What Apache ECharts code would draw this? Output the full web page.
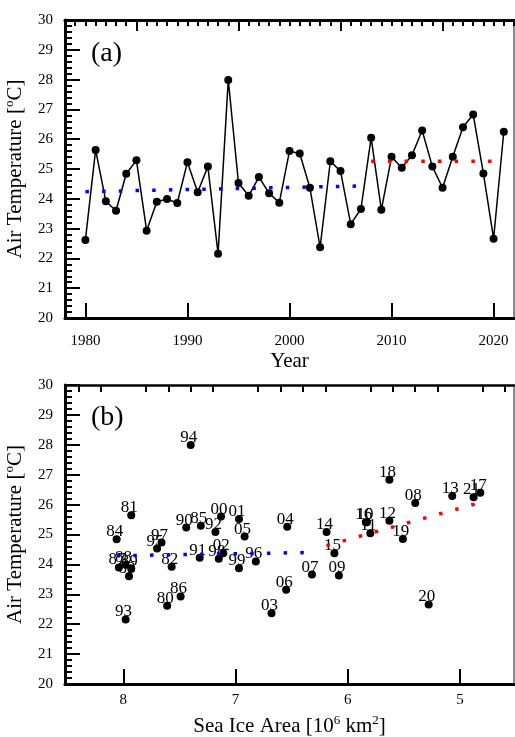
<!DOCTYPE html>
<html>
<head>
<meta charset="utf-8">
<script src="https://cdn.jsdelivr.net/npm/echarts@6/dist/echarts.min.js"></script>
<style>
  html, body { margin: 0; padding: 0; background: #fff; }
  #chart { width: 515px; height: 737px; }
</style>
</head>
<body>
<div id="chart"></div>
<script>
// yearly data, 1980-2021
const years = [1980, 1981, 1982, 1983, 1984, 1985, 1986, 1987, 1988, 1989,
  1990, 1991, 1992, 1993, 1994, 1995, 1996, 1997, 1998, 1999,
  2000, 2001, 2002, 2003, 2004, 2005, 2006, 2007, 2008, 2009,
  2010, 2011, 2012, 2013, 2014, 2015, 2016, 2017, 2018, 2019,
  2020, 2021]
const airTemp = [22.62, 25.64, 23.92, 23.60, 24.84, 25.29, 22.93, 23.90, 23.99, 23.86,
  25.23, 24.22, 25.08, 22.16, 27.99, 24.53, 24.10, 24.73, 24.19, 23.87,
  25.60, 25.52, 24.37, 22.37, 25.26, 24.93, 23.15, 23.66, 26.05, 23.63,
  25.41, 25.04, 25.46, 26.29, 25.08, 24.37, 25.41, 26.40, 26.83, 24.85,
  22.66, 26.25]
const seaIce = [7.61, 7.93, 7.57, 7.95, 8.06, 7.31, 7.49, 8.04, 7.98, 7.93,
  7.44, 7.32, 7.18, 7.98, 7.40, 7.70, 6.82, 7.66, 7.15, 6.97,
  7.13, 6.97, 7.11, 6.68, 6.54, 6.92, 6.55, 6.32, 5.40, 6.08,
  5.83, 5.80, 5.63, 5.07, 6.19, 6.12, 5.84, 4.82, 5.63, 5.51,
  5.28, 4.88]

// mean / trend lines
const meanEarlyA = [[1980, 24.24], [2007, 24.43]]
const meanLateA = [[2008, 25.26], [2021, 25.26]]
const fitEarlyB = [[8.06, 24.29], [6.32, 24.40]]
const fitLateB = [[6.19, 24.63], [4.82, 26.07]]

// tick values
const decadeTicks = [1980, 1990, 2000, 2010, 2020]
const halfDecadeTicks = [1985, 1995, 2005, 2015]
const iceMajorTicks = [5, 6, 7, 8]
const iceMinorTicks = [4.6, 4.8, 5.2, 5.4, 5.6, 5.8, 6.2, 6.4, 6.6, 6.8,
  7.2, 7.4, 7.6, 7.8, 8.2, 8.4]

const serif = 'Liberation Serif'
const chart = echarts.init(document.getElementById('chart'))

const nameStyle = {
  fontFamily: serif,
  fontSize: 21,
  color: '#000',
  lineHeight: 24,
  rich: {
    sup: { fontFamily: serif, fontSize: 13, lineHeight: 13, verticalAlign: 'top', color: '#000' },
  },
}

const baseX = (grid, opts) => Object.assign({
  type: 'value',
  gridIndex: grid,
  splitLine: { show: false },
  axisLine: { show: false },
  axisTick: { show: false },
  axisLabel: { show: false },
}, opts)

const tempAxes = (grid) => [
  {
    type: 'value',
    gridIndex: grid,
    min: 20,
    max: 30,
    interval: 1,
    splitLine: { show: false },
    axisLine: { show: true, lineStyle: { color: '#000', width: 3 } },
    axisTick: { show: true, inside: true, length: 15, lineStyle: { color: '#000', width: 2 } },
    minorTick: { show: true, splitNumber: 5, length: 7, lineStyle: { color: '#000', width: 2 } },
    axisLabel: { fontFamily: serif, fontSize: 15, color: '#000', margin: 12 },
    name: 'Air Temperature [{sup|o}C]',
    nameLocation: 'middle',
    nameGap: 33,
    nameTextStyle: nameStyle,
  },
  {
    type: 'value',
    gridIndex: grid,
    position: 'right',
    min: 20,
    max: 30,
    splitLine: { show: false },
    axisLine: { show: true, lineStyle: { color: '#666', width: 1.5 } },
    axisTick: { show: false },
    axisLabel: { show: false },
  },
]

const option = {
  animation: false,
  backgroundColor: '#fff',
  grid: [
    { left: 65, right: 1, top: 20, height: 298, outerBoundsMode: 'none', containLabel: false },
    { left: 65, right: 1, top: 385, height: 299, outerBoundsMode: 'none', containLabel: false },
  ],
  xAxis: [
    // panel (a)
    baseX(0, {
      min: 1978, max: 2022,
      axisLine: { show: true, lineStyle: { color: '#000', width: 3 } },
      axisTick: { show: true, inside: true, length: 15, customValues: decadeTicks, lineStyle: { color: '#000', width: 2 } },
      axisLabel: {
        show: true, customValues: decadeTicks, formatter: (v) => String(v),
        fontFamily: serif, fontSize: 15, color: '#000', margin: 16,
      },
      name: 'Year',
      nameLocation: 'middle',
      nameGap: 27,
      nameTextStyle: nameStyle,
    }),
    baseX(0, {
      min: 1978, max: 2022,
      axisTick: { show: true, inside: true, length: 11, customValues: halfDecadeTicks, lineStyle: { color: '#000', width: 2 } },
    }),
    baseX(0, {
      min: 1978, max: 2022, interval: 1,
      axisTick: { show: true, inside: true, length: 6, lineStyle: { color: '#000', width: 2 } },
    }),
    baseX(0, {
      min: 1978, max: 2022, position: 'top',
      axisLine: { show: true, lineStyle: { color: '#000', width: 3 } },
    }),
    // panel (b)
    baseX(1, {
      min: 4.52, max: 8.52, inverse: true,
      axisLine: { show: true, lineStyle: { color: '#000', width: 3 } },
      axisTick: { show: true, inside: true, length: 15, customValues: iceMajorTicks, lineStyle: { color: '#000', width: 2 } },
      axisLabel: { show: true, customValues: iceMajorTicks, fontFamily: serif, fontSize: 15, color: '#000', margin: 9 },
      name: 'Sea Ice Area [10{sup|6} km{sup|2}]',
      nameLocation: 'middle',
      nameGap: 30,
      nameTextStyle: nameStyle,
    }),
    baseX(1, {
      min: 4.52, max: 8.52, inverse: true,
      axisTick: { show: true, inside: true, length: 7, customValues: iceMinorTicks, lineStyle: { color: '#000', width: 2 } },
    }),
    baseX(1, {
      min: 4.52, max: 8.52, inverse: true, position: 'top',
      axisLine: { show: true, lineStyle: { color: '#000', width: 2.5 } },
    }),
  ],
  yAxis: [...tempAxes(0), ...tempAxes(1)],
  series: [
    {
      name: 'temp',
      type: 'line',
      xAxisIndex: 0,
      yAxisIndex: 0,
      data: years.map((y, i) => [y, airTemp[i]]),
      symbol: 'circle',
      symbolSize: 8,
      itemStyle: { color: '#000', opacity: 1 },
      lineStyle: { color: '#000', width: 1.5 },
    },
    {
      type: 'line',
      xAxisIndex: 0,
      yAxisIndex: 0,
      data: meanEarlyA,
      symbol: 'none',
      lineStyle: { color: '#0000ff', width: 3.5, type: [3.5, 13.2] },
      z: 5,
    },
    {
      type: 'line',
      xAxisIndex: 0,
      yAxisIndex: 0,
      data: meanLateA,
      symbol: 'none',
      lineStyle: { color: '#ff0000', width: 3.5, type: [3.5, 13.2] },
      z: 5,
    },
    {
      name: 'scatter',
      type: 'scatter',
      xAxisIndex: 4,
      yAxisIndex: 2,
      data: seaIce.map((a, i) => [a, airTemp[i], String(years[i]).slice(2)]),
      symbolSize: 8,
      itemStyle: { color: '#000', opacity: 1 },
      label: {
        show: true,
        position: 'top',
        distance: 0,
        offset: [-2, 5],
        formatter: (p) => p.data[2],
        fontFamily: serif,
        fontSize: 17,
        color: '#000',
      },
    },
    {
      type: 'line',
      xAxisIndex: 4,
      yAxisIndex: 2,
      data: fitEarlyB,
      symbol: 'none',
      lineStyle: { color: '#0000ff', width: 3.5, type: [3.5, 13.2] },
      z: 5,
    },
    {
      type: 'line',
      xAxisIndex: 4,
      yAxisIndex: 2,
      data: fitLateB,
      symbol: 'none',
      lineStyle: { color: '#ff0000', width: 3.5, type: [3.5, 13.2] },
      z: 5,
    },
  ],
  graphic: [
    { type: 'text', left: 91, top: 40, style: { text: '(a)', font: '28px "Liberation Serif"', fill: '#000' } },
    { type: 'text', left: 91, top: 404, style: { text: '(b)', font: '28px "Liberation Serif"', fill: '#000' } },
  ],
}

chart.setOption(option)
</script>
</body>
</html>
